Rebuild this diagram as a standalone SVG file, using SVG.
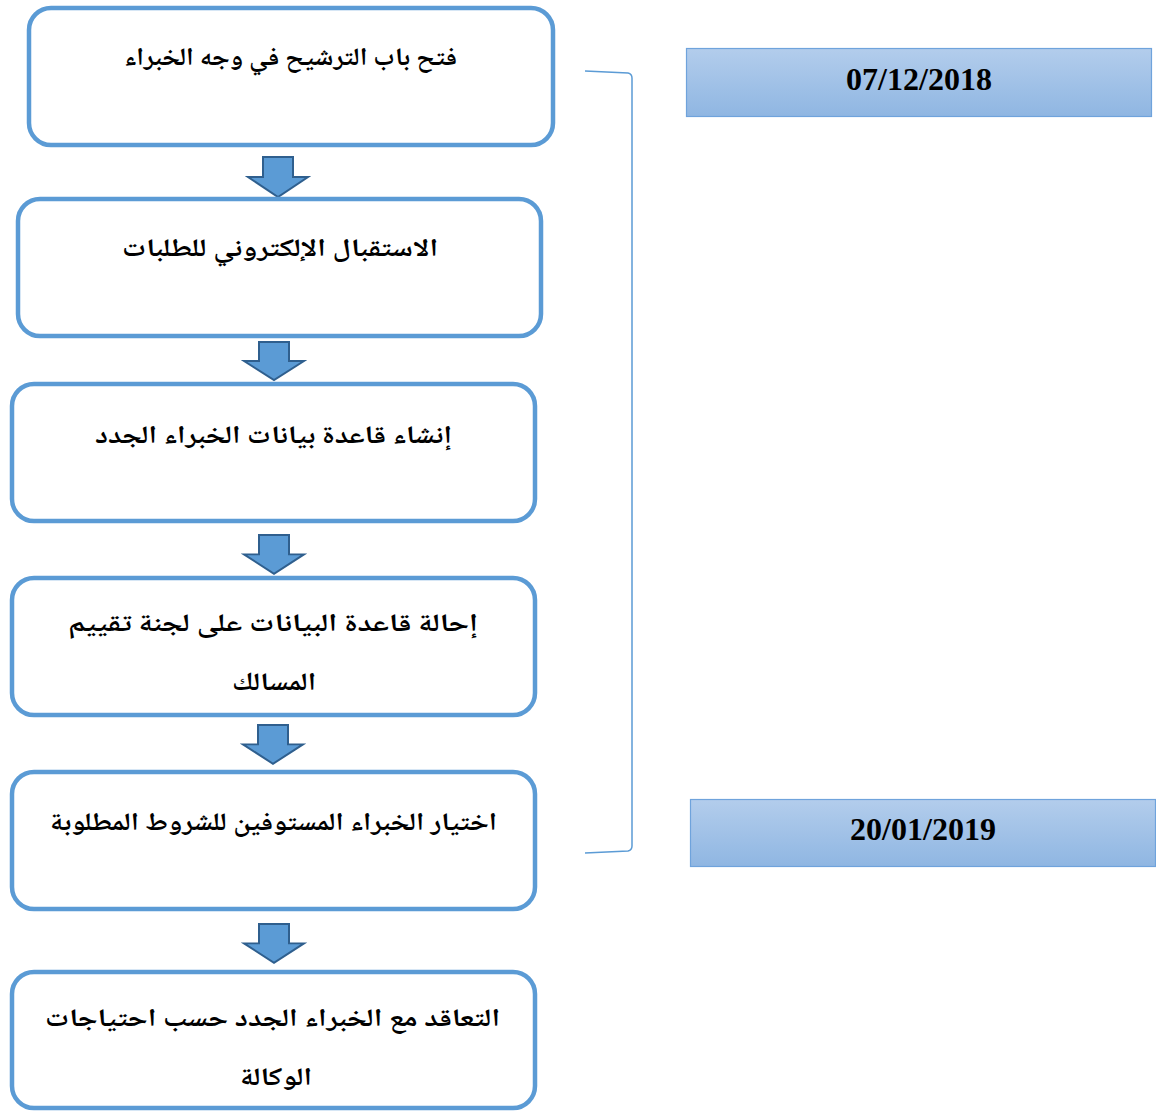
<svg xmlns="http://www.w3.org/2000/svg" xmlns:xlink="http://www.w3.org/1999/xlink" width="1156" height="1111" viewBox="0 0 1156 1111">
<style>
.box{fill:#ffffff;stroke:#5b9bd5;stroke-width:4.5}
.lbl{font-family:"Noto Naskh Arabic","Noto Sans Arabic","DejaVu Sans",sans-serif;font-weight:bold;font-size:25px;fill:#000;text-anchor:middle}
.date{fill:url(#g);stroke:#6fa3dc;stroke-width:1.2}
.dtxt{font-family:"Liberation Serif",serif;font-weight:bold;font-size:32px;fill:#000;text-anchor:middle}
.arr{fill:#5b9bd5;stroke:#2f5f8e;stroke-width:2;stroke-linejoin:miter}
.br{fill:none;stroke:#5b9bd5;stroke-width:1.5}
</style>
<defs>
<linearGradient id="g" x1="0" y1="0" x2="0" y2="1">
<stop offset="0" stop-color="#b3cdec"/>
<stop offset="1" stop-color="#8fb6e2"/>
</linearGradient>
<path id="arrow" class="arr" d="M-15,0 H15 V20 H30 L0,40 L-30,20 H-15 Z"/>
</defs>
<rect width="1156" height="1111" fill="#ffffff"/>

<g id="connectors">
<use xlink:href="#arrow" transform="translate(278,157)"/>
<use xlink:href="#arrow" transform="translate(274,342) scale(1,0.95)"/>
<use xlink:href="#arrow" transform="translate(274,535) scale(1,0.97)"/>
<use xlink:href="#arrow" transform="translate(273,725) scale(1,0.97)"/>
<use xlink:href="#arrow" transform="translate(274,924) scale(1,0.97)"/>
<path class="br" d="M585,71 L628,73 Q632,74 632,78 L632,846 Q632,850 628,851 L585,853"/>
</g>

<g id="n1">
<rect class="box" x="29" y="8" width="524" height="137" rx="22"/>
<text class="lbl" x="290.5" y="65" textLength="333" lengthAdjust="spacingAndGlyphs">فتح باب الترشيح في وجه الخبراء</text>
</g>
<g id="n2">
<rect class="box" x="18" y="199" width="523" height="137" rx="22"/>
<text class="lbl" x="280" y="256" textLength="316" lengthAdjust="spacingAndGlyphs">الاستقبال الإلكتروني للطلبات</text>
</g>
<g id="n3">
<rect class="box" x="12" y="384" width="523" height="137" rx="22"/>
<text class="lbl" x="273.5" y="443" textLength="357" lengthAdjust="spacingAndGlyphs">إنشاء قاعدة بيانات الخبراء الجدد</text>
</g>
<g id="n4">
<rect class="box" x="12" y="578" width="523" height="137" rx="22"/>
<text class="lbl" x="273" y="631" textLength="410" lengthAdjust="spacingAndGlyphs">إحالة قاعدة البيانات على لجنة تقييم</text>
<text class="lbl" x="274" y="690" textLength="84" lengthAdjust="spacingAndGlyphs">المسالك</text>
</g>
<g id="n5">
<rect class="box" x="12" y="772" width="523" height="137" rx="22"/>
<text class="lbl" x="273.5" y="830" textLength="447" lengthAdjust="spacingAndGlyphs">اختيار الخبراء المستوفين للشروط المطلوبة</text>
</g>
<g id="n6">
<rect class="box" x="12" y="972" width="523" height="136" rx="22"/>
<text class="lbl" x="272.5" y="1026" textLength="455" lengthAdjust="spacingAndGlyphs">التعاقد مع الخبراء الجدد حسب احتياجات</text>
<text class="lbl" x="276" y="1085" textLength="72" lengthAdjust="spacingAndGlyphs">الوكالة</text>
</g>

<g id="d1">
<rect class="date" x="686.5" y="48.5" width="465" height="68"/>
<text class="dtxt" x="919" y="90">07/12/2018</text>
</g>
<g id="d2">
<rect class="date" x="690.5" y="799.5" width="465" height="67"/>
<text class="dtxt" x="923" y="840">20/01/2019</text>
</g>
</svg>
